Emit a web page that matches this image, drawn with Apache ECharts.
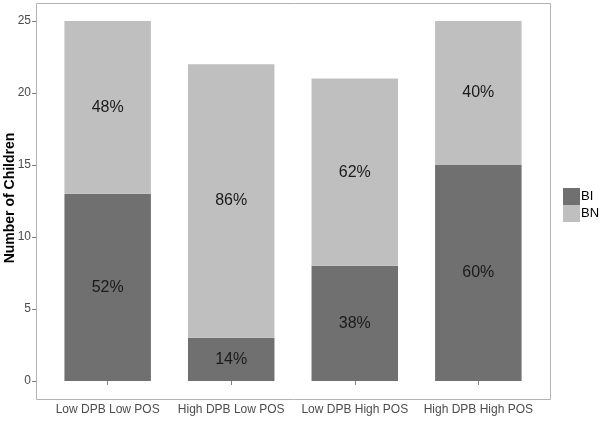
<!DOCTYPE html>
<html><head><meta charset="utf-8">
<script src="https://cdn.jsdelivr.net/npm/echarts@6/dist/echarts.min.js"></script>
<style>html,body{margin:0;padding:0;background:#fff}#c{width:600px;height:421px}</style>
</head><body><div id="c"></div>
<script>
const categories = ['Low DPB Low POS','High DPB Low POS','Low DPB High POS','High DPB High POS'];
const seriesNames = ['BI','BN'];
const biValues = [13, 3, 8, 15];
const bnValues = [12, 19, 13, 10];
const yTicks = [0, 5, 10, 15, 20, 25];
const colors = ['#707070', '#bfbfbf'];

const totals = biValues.map((v, i) => v + bnValues[i]);
const pct = (vals) => (p) => Math.round(vals[p.dataIndex] / totals[p.dataIndex] * 100) + '%';

const panelL = 36, panelR = 550, panelT = 3, panelB = 399;
const band = (panelR - panelL) / (categories.length + 1.2);
const pad = band * 0.1;
const font = '"Liberation Sans", Arial, sans-serif';

const chart = echarts.init(document.getElementById('c'));
chart.setOption({
  animation: false,
  textStyle: {fontFamily: font},
  grid: {left: panelL + pad, right: 600 - panelR + pad, top: panelT, bottom: 421 - panelB},
  graphic: [{
    type: 'rect', silent: true, z: 10,
    shape: {x: panelL + 0.5, y: panelT + 0.5, width: panelR - panelL, height: panelB - panelT},
    style: {fill: 'none', stroke: '#b3b3b3', lineWidth: 1}
  }, {
    type: 'text', silent: true, rotation: Math.PI / 2, x: 10, y: 198,
    style: {text: 'Number of Children', font: 'bold 14px ' + font, fill: '#000',
            textAlign: 'center', textVerticalAlign: 'middle'}
  }],
  legend: {
    orient: 'vertical', left: 563, top: 188, padding: 0, itemWidth: 17, itemHeight: 17, itemGap: 0,
    icon: 'rect', textStyle: {fontSize: 13, color: '#000', fontFamily: font, padding: [0, 0, 0, -4]},
    data: seriesNames
  },
  xAxis: {
    type: 'category', data: categories,
    axisLine: {show: false},
    axisTick: {show: true, alignWithLabel: true, length: 4, lineStyle: {color: '#7f7f7f'}},
    axisLabel: {color: '#4d4d4d', fontSize: 12, margin: 5, interval: 0, fontFamily: font}
  },
  yAxis: {
    type: 'value', min: -1.25, max: 26.25, offset: pad,
    splitLine: {show: false},
    axisLine: {show: false},
    axisTick: {show: true, length: 4, customValues: yTicks, lineStyle: {color: '#7f7f7f'}},
    axisLabel: {customValues: yTicks, color: '#4d4d4d', fontSize: 12, margin: 5, fontFamily: font}
  },
  series: [
    {name: 'BI', type: 'bar', stack: 'a', data: biValues, barWidth: '70%',
     itemStyle: {color: colors[0]},
     label: {show: true, position: 'inside', formatter: pct(biValues), fontSize: 16, color: '#1a1a1a', fontFamily: font}},
    {name: 'BN', type: 'bar', stack: 'a', data: bnValues, barWidth: '70%',
     itemStyle: {color: colors[1]},
     label: {show: true, position: 'inside', formatter: pct(bnValues), fontSize: 16, color: '#1a1a1a', fontFamily: font}}
  ]
});
</script></body></html>
